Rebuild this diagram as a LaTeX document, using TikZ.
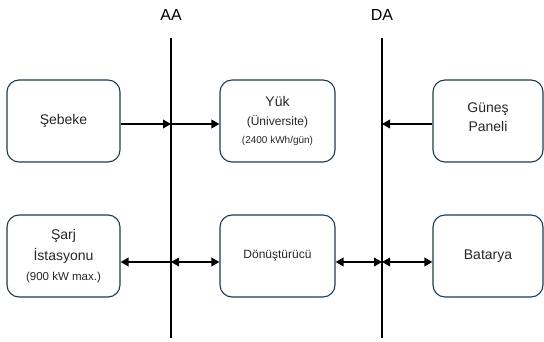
\documentclass[tikz,border=0pt]{standalone}
\usepackage{fontspec}
\setmainfont{Liberation Sans}
\usetikzlibrary{arrows.meta}
\definecolor{boxline}{HTML}{1F3A4D}
\definecolor{txt}{HTML}{262626}
\begin{document}
\begin{tikzpicture}[x=1pt,y=-1pt,
  blk/.style={draw=boxline,line width=1.1pt,rounded corners=12pt,minimum width=113pt,minimum height=82pt,inner sep=0pt,text=txt,align=center,font=\fontsize{14}{19}\selectfont},
  bus/.style={line width=2.4pt,black},
  tipk/.tip={Triangle[length=8pt,width=8.5pt]},
  conn/.style={line width=1.9pt,-tipk},
  bconn/.style={line width=1.9pt,tipk-tipk},
  lbl/.style={font=\fontsize{16}{18}\selectfont,text=black,inner sep=0pt}]
\useasboundingbox (0,0) rectangle (544,342);

% bus labels and lines
\node[lbl] (aalbl) at (171,15) {AA};
\node[lbl] (dalbl) at (382,15) {DA};
\coordinate (aatop) at (171,38);
\coordinate (aabot) at (171,338);
\coordinate (datop) at (382,38);
\coordinate (dabot) at (382,338);
\draw[bus] (aatop) -- (aabot);
\draw[bus] (datop) -- (dabot);

% boxes
\node[blk] (seb) at (63.5,121) {Şebeke};
\node[blk,minimum width=115pt] (yuk) at (277.5,121) {Yük\\[0pt]{\fontsize{12}{19}\selectfont (Üniversite)}\\[-1pt]{\fontsize{10}{16}\selectfont (2400 kWh/gün)}};
\node[blk,minimum width=110pt] (gun) at (488,121) {Güneş\\Paneli\\[-12pt]\mbox{}};
\node[blk] (sarj) at (63.5,256) {Şarj\\[2pt]İstasyonu\\[1pt]{\fontsize{11.5}{19}\selectfont (900 kW max.)}};
\node[blk,minimum width=115pt,font=\fontsize{12}{16}\selectfont] (donus) at (277.5,256) {Dönüştürücü};
\node[blk,minimum width=110pt] (bat) at (488,256) {Batarya};

% bus tap points
\coordinate (aa1) at (171,124);
\coordinate (da1) at (382,124);
\coordinate (aa2) at (171,262);
\coordinate (da2) at (382,262);

% connectors
\draw[conn] (seb.east |- aa1) -- (aa1);
\draw[conn] (aa1) -- (yuk.west |- aa1);
\draw[conn] (gun.west |- da1) -- (da1);
\draw[conn] (aa2) -- (sarj.east |- aa2);
\draw[bconn] (aa2) -- (donus.west |- aa2);
\draw[bconn] (donus.east |- da2) -- (da2);
\draw[bconn] (da2) -- (bat.west |- da2);
\end{tikzpicture}
\end{document}
